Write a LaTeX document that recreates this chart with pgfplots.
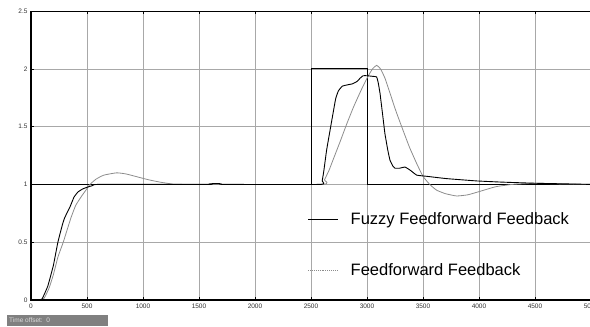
\documentclass[border=0pt]{standalone}
\usepackage{pgfplots}
\pgfplotsset{compat=1.18}
\usepackage{fontspec}
\setmainfont{Liberation Sans}
\definecolor{ffgray}{HTML}{8C8C8C}
\definecolor{gridgray}{HTML}{A8A8A8}
\begin{document}
\begin{tikzpicture}
\begin{axis}[
  name=ax,
  scale only axis, width=560pt, height=289pt,
  xmin=0, xmax=5000, ymin=0, ymax=2.5,
  xtick={0,500,...,5000}, ytick={0,0.5,...,2.5},
  /pgf/number format/assume math mode=true,
  /pgf/number format/set thousands separator={},
  /pgf/number format/1000 sep={},
  ticklabel style={font=\fontsize{6.5}{7}\selectfont, text=black!80},
  tick style={black, line width=0.6pt},
  major tick length=3pt, tick align=inside,
  xtick pos=both, ytick pos=left,
  grid=major, major grid style={gridgray, line width=0.6pt},
  axis line style={black, line width=0.6pt},
  legend style={at={(axis cs:2470,0.755)}, anchor=north west, draw=none, fill=none,
    font=\fontsize{16.5}{19}\selectfont, row sep=37pt, inner sep=0pt,
    nodes={inner sep=0pt}, column sep=12pt},
  legend cell align=left,
  legend image code/.code={\draw[#1] (0pt,0pt) -- (30pt,0pt);},
]
% reference signal
\addplot[black, line width=0.9pt, forget plot] coordinates {
(0,1) (2500,1) (2500,2) (3000,2) (3000,1) (5000,1)};
% Feedforward Feedback (gray)
\addplot[ffgray, line width=0.8pt, smooth, tension=0.3, forget plot] coordinates {
(0,0) (95,0) (120,0.02) (160,0.1) (200,0.22) (240,0.37) (288,0.5) (330,0.63) (360,0.72)
(400,0.82) (453,0.9) (490,0.95) (527,1.0) (580,1.045) (650,1.08) (765,1.10) (850,1.09)
(950,1.065) (1050,1.04) (1150,1.02) (1250,1.005) (1350,1.0) (2590,1.0)
(2620,1.04) (2660,1.12) (2700,1.22) (2760,1.37) (2818,1.52) (2880,1.67) (2950,1.82)
(3006,1.93) (3050,2.0) (3086,2.03) (3120,2.0) (3160,1.92) (3205,1.79) (3260,1.63)
(3321,1.47) (3380,1.32) (3444,1.18) (3500,1.07) (3560,1.0) (3622,0.95) (3700,0.92)
(3800,0.90) (3900,0.91) (4009,0.94) (4150,0.98) (4300,1.0) (4500,1.01) (4700,1.005) (5000,1.0)};
% Fuzzy Feedforward Feedback (black)
\addplot[black, line width=0.9pt, smooth, tension=0.2, forget plot] coordinates {
(0,0) (80,0) (100,0.01) (150,0.12) (200,0.3) (240,0.5) (280,0.65) (300,0.71) (350,0.81)
(384,0.89) (420,0.935) (460,0.96) (500,0.975) (550,0.99) (600,1) (1590,1) (1610,1.006)
(1690,1.006) (1715,1.0) (2590,1) (2600,1.03) (2615,1.12) (2640,1.3) (2685,1.55) (2720,1.74) (2745,1.81) (2780,1.85)
(2820,1.86) (2870,1.87) (2910,1.89) (2940,1.92) (2965,1.94) (3000,1.94) (3050,1.935)
(3086,1.93) (3100,1.88) (3116,1.79) (3140,1.6) (3160,1.44) (3185,1.3) (3205,1.21)
(3230,1.16) (3250,1.14) (3290,1.14) (3340,1.15) (3390,1.12) (3444,1.08) (3533,1.07)
(3711,1.05) (3979,1.03) (4200,1.02) (4500,1.01) (5000,1.0)};
\addlegendimage{black, line width=0.9pt}
\addlegendentry{Fuzzy Feedforward Feedback}
\addlegendimage{ffgray, line width=0.9pt, densely dotted}
\addlegendentry{Feedforward Feedback}
\end{axis}
\draw[black, line width=1.6pt] (ax.north west) -- (ax.south west) -- (ax.south east);
\fill[black!50] ([shift={(-24pt,-15pt)}]ax.south west) rectangle ([shift={(77pt,-26pt)}]ax.south west);
\node[anchor=west, inner sep=0pt, font=\fontsize{6.5}{7}\selectfont, text=black!15]
  at ([shift={(-22pt,-20.5pt)}]ax.south west) {Time offset:\ \ 0};
\pgfresetboundingbox
\path[use as bounding box] ([shift={(-31pt,-27pt)}]ax.south west) rectangle ([shift={(559pt,11pt)}]ax.north west);
\end{tikzpicture}
\end{document}
